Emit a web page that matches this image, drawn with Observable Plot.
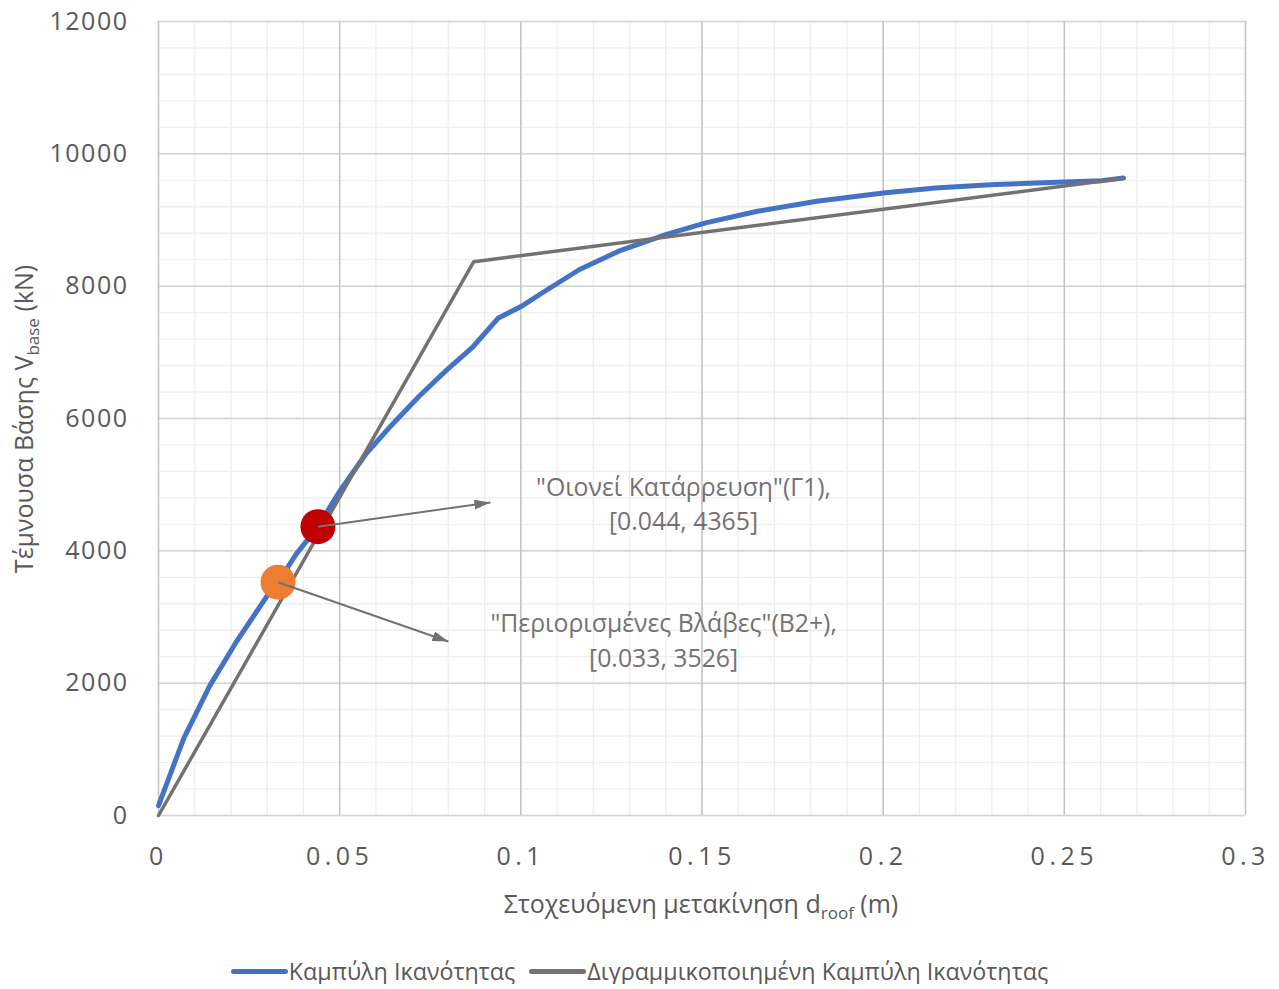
<!DOCTYPE html>
<html>
<head>
<meta charset="utf-8">
<script src="https://cdn.jsdelivr.net/npm/d3@7"></script>
<script src="https://cdn.jsdelivr.net/npm/@observablehq/plot@0.6"></script>
<style>
  body { margin: 0; background: #fff; font-family: "Open Sans", sans-serif; }
  #legend { display: flex; justify-content: center; align-items: center; padding-top: 28px; height: 26px; font-size: 23.3px; color: #595959; }
  .item { display: flex; align-items: center; margin: 0 7px; }
  .sw { width: 57px; height: 5px; border-radius: 3px; margin-right: 1px; }
</style>
</head>
<body>
<div id="chart"></div>
<script>
// Capacity curve (Καμπύλη Ικανότητας)
const capX = [0, 0.007, 0.0141, 0.0215, 0.0297, 0.033, 0.038, 0.044, 0.05, 0.0574, 0.0647, 0.072, 0.0795, 0.0868, 0.0937, 0.1006, 0.1052, 0.1162, 0.127, 0.140, 0.151, 0.1653, 0.1817, 0.2, 0.2144, 0.2308, 0.25, 0.2603, 0.2663];
const capY = [150, 1170, 1955, 2626, 3296, 3526, 3950, 4365, 4900, 5475, 5922, 6341, 6732, 7084, 7514, 7709, 7874, 8252, 8528, 8780, 8956, 9132, 9283, 9409, 9484, 9535, 9575, 9595, 9635];
// Bilinear curve (Διγραμμικοποιημένη Καμπύλη Ικανότητας)
const bilX = [0, 0.087, 0.2665];
const bilY = [0, 8370, 9630];
// Performance points
const ptX = [0.044, 0.033];
const ptY = [4365, 3526];
const ptColor = ["#C00000", "#ED7D31"];
// Annotation labels
const annLine1 = ["\"Οιονεί Κατάρρευση\"(Γ1),", "\"Περιορισμένες Βλάβες\"(Β2+),"];
const annLine2 = ["[0.044, 4365]", "[0.033, 3526]"];
// Ticks
const xTicks = [0, 0.05, 0.1, 0.15, 0.2, 0.25, 0.3];
const xTickLabels = ["0", "0.05", "0.1", "0.15", "0.2", "0.25", "0.3"];
const yTicks = [0, 2000, 4000, 6000, 8000, 10000, 12000];
const yTickLabels = ["0", "2000", "4000", "6000", "8000", "10000", "12000"];

const cap = capX.map((x, i) => ({x, y: capY[i]}));
const bil = bilX.map((x, i) => ({x, y: bilY[i]}));
const pts = ptX.map((x, i) => ({x, y: ptY[i], c: ptColor[i]}));
// arrow ends and label anchors (data coords)
const arrows = [
  {x1: ptX[0], y1: ptY[0], x2: 0.0916, y2: 4732},
  {x1: ptX[1], y1: ptY[1], x2: 0.0800, y2: 2630}
];
const labels = [
  {x: 0.1449, y: 4943, t: annLine1[0]},
  {x: 0.1449, y: 4429, t: annLine2[0]},
  {x: 0.1394, y: 2887, t: annLine1[1]},
  {x: 0.1394, y: 2358, t: annLine2[1]}
];
const minorX = d3.range(0, 0.3001, 0.01).map(v => +v.toFixed(3));
const minorY = d3.range(0, 12001, 400);

const plot = Plot.plot({
  width: 1279,
  height: 930,
  marginLeft: 158,
  marginRight: 34,
  marginTop: 21,
  marginBottom: 115,
  style: {fontFamily: "Open Sans, sans-serif", fontSize: "25px", color: "#595959", background: "#fff", overflow: "visible"},
  x: {domain: [0, 0.3]},
  y: {domain: [0, 12000]},
  marks: [
    Plot.ruleX(minorX, {stroke: "#eeeeee", strokeWidth: 1.3}),
    Plot.ruleY(minorY, {stroke: "#eeeeee", strokeWidth: 1.3}),
    Plot.ruleY(yTicks, {stroke: "#d4d4d4", strokeWidth: 1.5}),
    Plot.ruleX(xTicks, {stroke: "#c4c4c4", strokeWidth: 1.5}),
    Plot.axisX({ticks: xTicks, tickFormat: (d) => xTickLabels[xTicks.indexOf(d)], tickSize: 0, tickPadding: 32, label: null}),
    Plot.axisY({ticks: yTicks, tickFormat: (d) => yTickLabels[yTicks.indexOf(d)], tickSize: 0, tickPadding: 30, label: null}),
    Plot.line(cap, {x: "x", y: "y", stroke: "#4472C4", strokeWidth: 5, strokeLinejoin: "round", strokeLinecap: "round"}),
    Plot.line(bil, {x: "x", y: "y", stroke: "#767171", strokeWidth: 3.5, strokeLinejoin: "round", strokeLinecap: "round"}),
    Plot.dot(pts, {x: "x", y: "y", r: 17.5, fill: "c", stroke: null}),
    Plot.link(arrows, {x1: "x1", y1: "y1", x2: "x2", y2: "y2", stroke: "#767171", strokeWidth: 2}),
    Plot.text(labels, {x: "x", y: "y", text: "t", fontSize: 24.8, fill: "#767171", textAnchor: "middle"})
  ]
});

// arrowheads
const svg = d3.select(plot);
svg.append("defs").append("marker")
  .attr("id", "ah").attr("viewBox", "0 0 16 10").attr("refX", 16).attr("refY", 5)
  .attr("markerWidth", 16).attr("markerHeight", 10).attr("markerUnits", "userSpaceOnUse").attr("orient", "auto")
  .append("path").attr("d", "M0,0L16,5L0,10Z").attr("fill", "#767171");
svg.selectAll('g[aria-label="link"] path').attr("marker-end", "url(#ah)");

svg.selectAll('g[aria-label="x-axis tick label"] text').style("letter-spacing", "4.5px");
svg.selectAll('g[aria-label="y-axis tick label"] text').style("letter-spacing", "1.5px");

// axis titles with subscripts
const xt = svg.append("text").attr("x", 701).attr("y", 913).attr("text-anchor", "middle")
  .attr("fill", "#595959").attr("font-size", 25);
xt.append("tspan").text("Στοχευόμενη μετακίνηση d");
xt.append("tspan").attr("dy", 6).attr("font-size", 17).text("roof");
xt.append("tspan").attr("dy", -6).text(" (m)");

const yt = svg.append("text").attr("transform", "translate(33,419) rotate(-90)").attr("text-anchor", "middle")
  .attr("fill", "#595959").attr("font-size", 25);
yt.append("tspan").text("Τέμνουσα Βάσης V");
yt.append("tspan").attr("dy", 6).attr("font-size", 17).text("base");
yt.append("tspan").attr("dy", -6).text(" (kN)");

document.getElementById("chart").appendChild(plot);

// legend
const legend = document.createElement("div");
legend.id = "legend";
[["#4472C4", "Καμπύλη Ικανότητας"], ["#767171", "Διγραμμικοποιημένη Καμπύλη Ικανότητας"]].forEach(([c, t]) => {
  const it = document.createElement("div"); it.className = "item";
  const sw = document.createElement("div"); sw.className = "sw"; sw.style.background = c;
  const tx = document.createElement("span"); tx.textContent = t;
  it.appendChild(sw); it.appendChild(tx); legend.appendChild(it);
});
document.body.appendChild(legend);
</script>
</body>
</html>
